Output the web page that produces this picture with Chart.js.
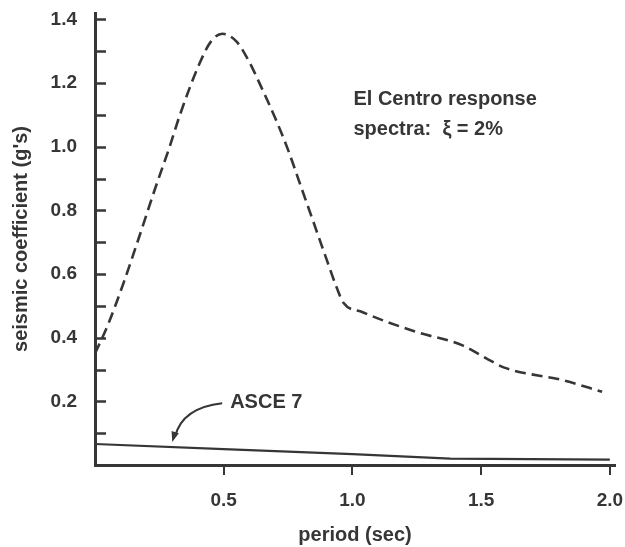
<!DOCTYPE html>
<html>
<head>
<meta charset="utf-8">
<script src="https://cdn.jsdelivr.net/npm/chart.js@4.4.1/dist/chart.umd.min.js"></script>
<style>
  html, body { margin: 0; padding: 0; background: #fff; }
  #wrap { width: 625px; height: 547px; }
</style>
</head>
<body>
<div id="wrap"><canvas id="spectrum" width="625" height="547"></canvas></div>
<script>
// El Centro response spectrum, 2% damping (period in s, coefficient in g)
const elCentroPeriods = [0, 0.05, 0.11, 0.175, 0.23, 0.29, 0.33, 0.40, 0.45, 0.495, 0.55, 0.60, 0.65, 0.70, 0.75, 0.80, 0.85, 0.90, 0.94, 0.965, 1.04, 1.24, 1.43, 1.52, 1.59, 1.82, 1.97];
const elCentroCoeffs  = [0.35, 0.44, 0.57, 0.725, 0.86, 1.0, 1.10, 1.25, 1.33, 1.355, 1.33, 1.265, 1.18, 1.09, 0.99, 0.875, 0.76, 0.645, 0.555, 0.51, 0.48, 0.42, 0.375, 0.335, 0.306, 0.266, 0.23];

// ASCE 7 design curve
const ascePeriods = [0, 0.5, 1.0, 1.38, 2.0];
const asceCoeffs  = [0.066, 0.05, 0.034, 0.02, 0.017];

const periodTicks = [0.5, 1.0, 1.5, 2.0];
const coeffLabels = [0.2, 0.4, 0.6, 0.8, 1.0, 1.2, 1.4];

const ink = '#363636';
const family = '"Liberation Sans", Arial, sans-serif';
const tickFont = { family: family, size: 19, weight: 'bold' };
const titleFont = { family: family, size: 20, weight: 'bold' };

const toPoints = (xs, ys) => xs.map((x, i) => ({ x: x, y: ys[i] }));

// inward tick marks on the y axis, plus the two annotations
const decorations = {
  id: 'decorations',
  afterDraw(chart) {
    const ctx = chart.ctx;
    const xs = chart.scales.x;
    const ys = chart.scales.y;
    const left = chart.chartArea.left;

    ctx.save();
    ctx.strokeStyle = ink;
    ctx.lineWidth = 2.5;
    ys.ticks.forEach(t => {
      if (t.value <= 0) return;
      const py = Math.round(ys.getPixelForValue(t.value)) + 0.5;
      ctx.beginPath();
      ctx.moveTo(left, py);
      ctx.lineTo(left + 11, py);
      ctx.stroke();
    });

    ctx.fillStyle = ink;
    ctx.font = `bold 20px ${family}`;
    ctx.textBaseline = 'middle';
    ctx.textAlign = 'left';
    ctx.fillText('El Centro response', xs.getPixelForValue(1.004), ys.getPixelForValue(1.147));
    ctx.fillText('spectra:  \u03BE = 2%', xs.getPixelForValue(1.004), ys.getPixelForValue(1.053));
    ctx.fillText('ASCE 7', xs.getPixelForValue(0.525), ys.getPixelForValue(0.197));

    // curved leader pointing at the ASCE 7 line
    const sx = xs.getPixelForValue(0.494), sy = ys.getPixelForValue(0.194);
    const tx = xs.getPixelForValue(0.30), ty = ys.getPixelForValue(0.072);
    const cx = xs.getPixelForValue(0.34), cy = ys.getPixelForValue(0.18);
    ctx.lineWidth = 2.2;
    ctx.beginPath();
    ctx.moveTo(sx, sy);
    ctx.quadraticCurveTo(cx, cy, tx + 3, ty - 6);
    ctx.stroke();
    const ang = Math.atan2(ty - cy, tx - cx);
    ctx.beginPath();
    ctx.moveTo(tx, ty);
    ctx.lineTo(tx - 11 * Math.cos(ang - 0.35), ty - 11 * Math.sin(ang - 0.35));
    ctx.lineTo(tx - 11 * Math.cos(ang + 0.35), ty - 11 * Math.sin(ang + 0.35));
    ctx.closePath();
    ctx.fill();
    ctx.restore();
  }
};

new Chart(document.getElementById('spectrum'), {
  type: 'line',
  data: {
    datasets: [
      {
        label: 'El Centro',
        data: toPoints(elCentroPeriods, elCentroCoeffs),
        borderColor: ink,
        borderWidth: 2.6,
        borderDash: [11, 6],
        pointRadius: 0,
        cubicInterpolationMode: 'monotone',
        fill: false
      },
      {
        label: 'ASCE 7',
        data: toPoints(ascePeriods, asceCoeffs),
        borderColor: ink,
        borderWidth: 2.2,
        pointRadius: 0,
        tension: 0,
        fill: false
      }
    ]
  },
  options: {
    responsive: false,
    animation: false,
    devicePixelRatio: 1,
    layout: { padding: { top: 13, right: 10, left: 0, bottom: 0 } },
    plugins: {
      legend: { display: false },
      tooltip: { enabled: false }
    },
    scales: {
      x: {
        type: 'linear',
        min: 0,
        max: 2.02,
        afterBuildTicks: s => { s.ticks = periodTicks.map(v => ({ value: v })); },
        afterFit: s => { s.height = 82; s.paddingLeft = 0; s.paddingRight = 0; },
        border: { display: true, color: ink, width: 3 },
        grid: { drawOnChartArea: false, drawTicks: true, tickLength: 10, color: ink, lineWidth: 2 },
        ticks: {
          color: ink,
          font: tickFont,
          padding: 14,
          maxRotation: 0,
          callback: v => v.toFixed(1)
        },
        title: {
          display: true,
          text: 'period (sec)',
          color: ink,
          font: titleFont,
          padding: { top: 0, bottom: 0 }
        }
      },
      y: {
        type: 'linear',
        min: 0,
        max: 1.42,
        afterFit: s => { s.width = 95; s.paddingTop = 0; s.paddingBottom = 0; },
        border: { display: true, color: ink, width: 3 },
        grid: { drawOnChartArea: false, drawTicks: false },
        ticks: {
          stepSize: 0.1,
          includeBounds: false,
          color: ink,
          font: tickFont,
          padding: 18,
          callback: v => coeffLabels.some(c => Math.abs(c - v) < 1e-6) ? v.toFixed(1) : ''
        },
        title: {
          display: true,
          text: "seismic coefficient (g's)",
          color: ink,
          font: titleFont,
          padding: { top: 9, bottom: 0 }
        }
      }
    }
  },
  plugins: [decorations]
});
</script>
</body>
</html>
